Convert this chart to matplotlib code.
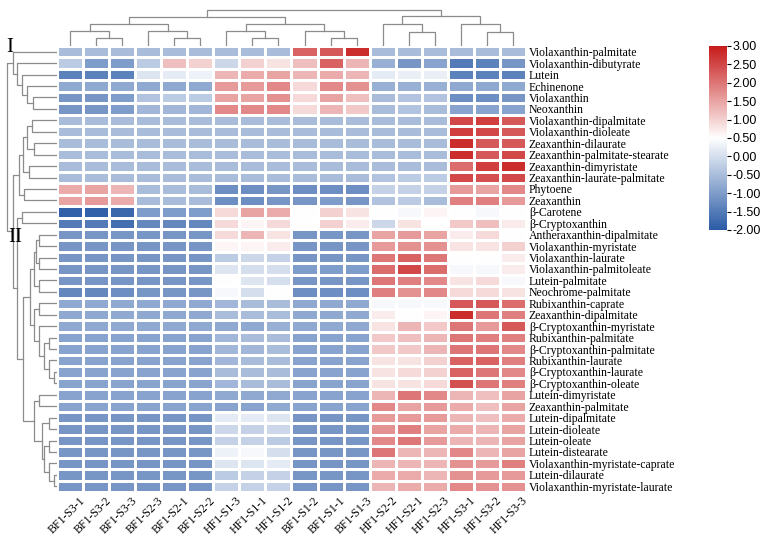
import matplotlib
matplotlib.use("Agg")
import matplotlib.pyplot as plt
import numpy as np
from matplotlib.colors import LinearSegmentedColormap
from matplotlib.transforms import ScaledTranslation

compounds = [
    "Violaxanthin-palmitate", "Violaxanthin-dibutyrate", "Lutein", "Echinenone",
    "Violaxanthin", "Neoxanthin", "Violaxanthin-dipalmitate", "Violaxanthin-dioleate",
    "Zeaxanthin-dilaurate", "Zeaxanthin-palmitate-stearate", "Zeaxanthin-dimyristate",
    "Zeaxanthin-laurate-palmitate", "Phytoene", "Zeaxanthin", "β-Carotene",
    "β-Cryptoxanthin", "Antheraxanthin-dipalmitate", "Violaxanthin-myristate",
    "Violaxanthin-laurate", "Violaxanthin-palmitoleate", "Lutein-palmitate",
    "Neochrome-palmitate", "Rubixanthin-caprate", "Zeaxanthin-dipalmitate",
    "β-Cryptoxanthin-myristate", "Rubixanthin-palmitate", "β-Cryptoxanthin-palmitate",
    "Rubixanthin-laurate", "β-Cryptoxanthin-laurate", "β-Cryptoxanthin-oleate",
    "Lutein-dimyristate", "Zeaxanthin-palmitate", "Lutein-dipalmitate", "Lutein-dioleate",
    "Lutein-oleate", "Lutein-distearate", "Violaxanthin-myristate-caprate",
    "Lutein-dilaurate", "Violaxanthin-myristate-laurate",
]

samples = [
    "BF1-S3-1", "BF1-S3-2", "BF1-S3-3", "BF1-S2-3", "BF1-S2-1", "BF1-S2-2",
    "HF1-S1-3", "HF1-S1-1", "HF1-S1-2", "BF1-S1-2", "BF1-S1-1", "BF1-S1-3",
    "HF1-S2-2", "HF1-S2-1", "HF1-S2-3", "HF1-S3-1", "HF1-S3-2", "HF1-S3-3",
]

# z-scores
zscores = [
    [-0.5, -0.5, -0.5, -0.5, -0.5, -0.5, -0.5, -0.5, -0.5, 2.2, 2.3, 2.8, -0.5, -0.5, -0.5, -0.5, -0.5, -0.5],
    [-0.3, -1.0, -1.0, -0.3, 1.2, 1.0, -0.1, 1.0, 0.8, 1.2, 2.2, 1.3, -0.7, -1.1, -0.9, -1.5, -1.4, -1.1],
    [-1.4, -1.4, -1.4, 0.1, 0.2, 0.3, 1.3, 1.4, 1.5, 1.3, 1.4, 1.3, 0.2, 0.25, 0.25, -1.4, -1.4, -1.4],
    [-0.8, -0.8, -0.8, -0.8, -0.8, -0.8, 1.6, 1.6, 1.8, 0.9, 1.8, 1.7, -0.7, -0.7, -0.7, -0.8, -0.8, -0.8],
    [-1.1, -1.1, -1.0, -0.4, -0.3, -0.3, 1.5, 1.5, 1.7, 0.9, 1.5, 1.2, -0.5, -0.4, -0.4, -1.2, -1.2, -1.1],
    [-1.1, -1.1, -1.0, -0.6, -0.6, -0.6, 1.8, 1.8, 1.8, 0.9, 1.3, 1.1, -0.5, -0.4, -0.5, -0.9, -0.9, -0.9],
    [-0.5, -0.5, -0.5, -0.5, -0.5, -0.5, -0.5, -0.5, -0.5, -0.5, -0.5, -0.5, -0.5, -0.5, -0.5, 2.5, 2.6, 2.3],
    [-0.5, -0.5, -0.5, -0.5, -0.5, -0.5, -0.5, -0.5, -0.5, -0.5, -0.5, -0.5, -0.5, -0.5, -0.5, 2.6, 2.5, 2.3],
    [-0.5, -0.5, -0.5, -0.5, -0.5, -0.5, -0.5, -0.5, -0.5, -0.5, -0.5, -0.5, -0.5, -0.5, -0.5, 2.8, 2.3, 2.3],
    [-0.5, -0.5, -0.5, -0.5, -0.5, -0.5, -0.5, -0.5, -0.5, -0.5, -0.5, -0.5, -0.5, -0.5, -0.5, 2.8, 2.3, 2.5],
    [-0.5, -0.5, -0.5, -0.5, -0.5, -0.5, -0.5, -0.5, -0.5, -0.5, -0.5, -0.5, -0.5, -0.5, -0.5, 2.1, 2.6, 2.8],
    [-0.5, -0.5, -0.5, -0.5, -0.5, -0.5, -0.5, -0.5, -0.5, -0.5, -0.5, -0.5, -0.4, -0.3, -0.3, 2.5, 2.4, 2.5],
    [1.4, 1.5, 1.3, -0.5, -0.5, -0.5, -1.2, -1.2, -1.1, -1.2, -1.2, -1.2, -0.2, -0.2, -0.2, 1.6, 1.5, 1.8],
    [1.5, 1.6, 1.4, -0.5, -0.5, -0.5, -1.2, -1.2, -1.1, -1.1, -1.0, -1.1, -0.4, -0.3, -0.5, 1.9, 1.9, 1.6],
    [-1.9, -1.9, -1.8, -1.0, -1.0, -1.0, 0.9, 1.5, 1.4, 0.5, 1.0, 0.8, 0.5, 0.4, 0.6, 0.5, 0.4, 0.5],
    [-1.5, -1.5, -1.7, -1.3, -1.3, -1.3, 0.9, 0.6, 0.9, 0.5, 1.0, 0.7, -0.1, 0.8, 0.5, 1.1, 1.2, 0.7],
    [-1.1, -1.1, -1.1, -1.1, -1.1, -1.1, 0.9, 1.3, 0.8, -1.1, -1.1, -1.1, 1.5, 1.6, 1.5, 0.7, 0.9, 0.5],
    [-1.1, -1.1, -1.1, -1.1, -1.1, -1.1, 0.6, 0.6, 0.7, -1.1, -1.1, -1.1, 1.6, 1.7, 1.7, 0.8, 0.8, 1.0],
    [-1.1, -1.1, -1.1, -1.1, -1.1, -1.1, -0.3, -0.1, -0.2, -1.1, -1.1, -1.1, 2.0, 2.2, 2.0, 0.5, 0.5, 0.7],
    [-1.1, -1.1, -1.1, -1.1, -1.1, -1.1, 0.1, 0.0, 0.0, -1.0, -1.0, -1.0, 2.1, 2.5, 2.1, 0.4, 0.4, 0.7],
    [-1.1, -1.1, -1.1, -1.1, -1.1, -1.1, 0.5, 0.1, 0.0, -1.1, -1.1, -1.1, 2.0, 1.9, 1.8, 0.8, 0.9, 0.4],
    [-1.3, -1.3, -1.2, -1.1, -1.1, -1.1, 0.4, 0.0, 0.5, -1.2, -1.2, -1.2, 1.9, 1.7, 1.8, 0.9, 0.9, 0.8],
    [-0.8, -0.8, -0.8, -0.8, -0.8, -0.8, -0.6, -0.5, -0.5, -0.8, -0.8, -0.8, 0.4, 0.4, 0.4, 2.3, 2.3, 2.1],
    [-0.8, -0.8, -0.8, -0.8, -0.8, -0.8, -0.5, -0.5, -0.5, -0.8, -0.8, -0.8, 0.7, 0.5, 0.6, 2.8, 2.0, 1.9],
    [-0.8, -0.8, -0.8, -0.8, -0.8, -0.8, -0.8, -0.8, -0.7, -0.8, -0.8, -0.8, 0.8, 1.3, 1.1, 2.0, 1.6, 2.3],
    [-0.9, -0.9, -0.9, -0.9, -0.9, -0.9, -0.6, -0.5, -0.5, -0.9, -0.9, -0.9, 1.1, 1.2, 1.3, 2.0, 1.9, 1.9],
    [-0.9, -0.9, -0.9, -0.9, -0.9, -0.9, -0.6, -0.6, -0.5, -0.9, -0.9, -0.9, 1.1, 1.1, 1.3, 2.0, 2.0, 1.8],
    [-0.9, -0.9, -0.9, -0.9, -0.9, -0.9, -0.6, -0.5, -0.5, -0.9, -0.9, -0.9, 0.8, 0.8, 1.0, 2.2, 2.2, 1.9],
    [-0.9, -0.9, -0.9, -0.9, -0.9, -0.9, -0.5, -0.5, -0.5, -0.9, -0.9, -0.9, 0.8, 0.9, 1.0, 2.2, 2.0, 1.8],
    [-0.9, -0.9, -0.9, -0.9, -0.9, -0.9, -0.6, -0.5, -0.5, -0.9, -0.9, -0.9, 0.8, 0.8, 0.9, 2.4, 2.0, 1.9],
    [-0.9, -0.9, -0.9, -0.9, -0.9, -0.9, -0.8, -0.8, -0.8, -0.9, -0.9, -0.9, 1.3, 2.0, 1.8, 1.3, 1.2, 1.5],
    [-0.9, -0.9, -0.9, -0.9, -0.9, -0.9, -0.9, -0.9, -0.8, -0.9, -0.9, -0.9, 1.8, 1.5, 1.6, 1.4, 1.2, 1.5],
    [-1.1, -1.1, -1.1, -1.1, -1.1, -1.1, 0.2, 0.2, 0.1, -1.1, -1.1, -1.1, 1.6, 1.6, 1.6, 1.3, 1.2, 1.4],
    [-1.1, -1.1, -1.1, -1.1, -1.1, -1.1, -0.1, -0.2, -0.1, -1.1, -1.1, -1.1, 1.7, 1.9, 1.5, 1.4, 1.3, 1.5],
    [-1.1, -1.1, -1.1, -1.1, -1.1, -1.1, -0.2, -0.2, -0.3, -1.1, -1.1, -1.1, 1.8, 2.0, 1.6, 1.3, 1.3, 1.5],
    [-1.1, -1.1, -1.1, -1.1, -1.1, -1.1, 0.3, 0.4, 0.0, -1.1, -1.1, -1.1, 2.0, 1.3, 1.3, 1.8, 1.3, 1.5],
    [-1.1, -1.1, -1.1, -1.1, -1.1, -1.1, 0.1, 0.1, 0.2, -1.1, -1.1, -1.1, 1.3, 1.3, 1.3, 1.7, 1.6, 1.9],
    [-1.1, -1.1, -1.1, -1.1, -1.1, -1.1, -0.3, -0.2, -0.2, -1.1, -1.1, -1.1, 1.4, 1.4, 1.3, 1.7, 1.6, 1.6],
    [-1.1, -1.1, -1.1, -1.1, -1.1, -1.1, -0.2, -0.2, -0.2, -1.1, -1.1, -1.1, 1.3, 1.4, 1.4, 1.8, 1.7, 1.7],
]

# dendrograms as nested [left, right, height]; leaves are row / column indices
row_tree = [
    [0, [1, [2, [3, [4, 5, 0.49], 0.60], 0.70], 0.81], 0.89],
    [
        [[[[6, 7, 0.50], [8, 9, 0.47], 0.61], [10, 11, 0.57], 0.69], [12, 13, 0.67], 0.77],
        [[14, 15, 0.70],
         [[[[[16, 17, 0.37], [18, 19, 0.37], 0.42], [20, 21, 0.37], 0.47],
           [[22, 23, 0.37], [24, [[25, 26, 0.17], [27, [28, 29, 0.07], 0.17], 0.27], 0.37], 0.47],
           0.55],
          [[30, 31, 0.37], [[32, 33, 0.17], [[34, 35, 0.17], [36, [37, 38, 0.07], 0.17], 0.27], 0.30], 0.47],
          0.69],
         0.81],
        0.89,
    ],
    1.0,
]

col_tree = [
    [[[0, [1, 2, 0.22], 0.42], [3, [4, 5, 0.22], 0.42], 0.61],
     [[6, [7, 8, 0.22], 0.42], [9, [10, 11, 0.22], 0.42], 0.61], 0.81],
    [[12, [13, 14, 0.40], 0.61], [15, [16, 17, 0.40], 0.61], 0.83],
    1.0,
]

cmap = LinearSegmentedColormap.from_list(
    "bwr_custom", [(0.0, "#2a5ba6"), (0.5, "#ffffff"), (1.0, "#c71a1a")])
tree_color = "#8c8c8c"


def draw_tree(ax, node, side):
    """Draw one link of the tree and return (leaf position, height)."""
    if isinstance(node, int):
        return node + 0.5, 0.0
    left, right, h = node
    pl, hl = draw_tree(ax, left, side)
    pr, hr = draw_tree(ax, right, side)
    if side == "top":
        ax.plot([pl, pl, pr, pr], [hl, h, h, hr], color=tree_color, lw=0.9)
    else:
        ax.plot([hl, h, h, hr], [pl, pl, pr, pr], color=tree_color, lw=0.9)
    return (pl + pr) / 2, h


plt.rcParams['font.family'] = ['Liberation Serif', 'DejaVu Serif']

W, H = 767, 538
fig = plt.figure(figsize=(W / 100, H / 100), dpi=100)

hx0, hx1, hy0, hy1 = 57, 526, 46, 492
ax = fig.add_axes([hx0 / W, 1 - hy1 / H, (hx1 - hx0) / W, (hy1 - hy0) / H])
data = np.array(zscores)
mesh = ax.pcolormesh(data, cmap=cmap, vmin=-2, vmax=3, edgecolors="white", linewidth=0.9)
ax.set_xlim(0, len(samples))
ax.set_ylim(len(compounds), 0)
ax.set_yticks(np.arange(len(compounds)) + 0.5, compounds, fontsize=8.5)
ax.yaxis.tick_right()
ax.set_xticks(np.arange(len(samples)) + 0.5, samples, fontsize=8.5,
              rotation=45, ha="right", rotation_mode="anchor")
ax.tick_params(length=0, pad=2)
ax.tick_params(axis="x", pad=2)
shift = ScaledTranslation(9 / 100, 0, fig.dpi_scale_trans)
for lab in ax.get_xticklabels():
    lab.set_transform(lab.get_transform() + shift)
for s in ax.spines.values():
    s.set_visible(False)

# top (sample) dendrogram
tx = fig.add_axes([hx0 / W, 1 - hy0 / H, (hx1 - hx0) / W, 38 / H])
draw_tree(tx, col_tree, "top")
tx.set_xlim(0, len(samples))
tx.set_ylim(0, 1.056)
tx.axis("off")

# left (compound) dendrogram
lx = fig.add_axes([5 / W, 1 - hy1 / H, (hx0 - 5) / W, (hy1 - hy0) / H])
draw_tree(lx, row_tree, "left")
lx.set_ylim(len(compounds), 0)
lx.set_xlim(1.04, 0)
lx.axis("off")

fig.text(10 / W, 1 - 47 / H, "I", fontsize=15, ha="center", va="center")
fig.text(15 / W, 1 - 238 / H, "II", fontsize=15, ha="center", va="center")

# colour scale
cax = fig.add_axes([709 / W, 1 - 230 / H, 18 / W, 184 / H])
cb = fig.colorbar(mesh, cax=cax, ticks=np.arange(-2, 3.01, 0.5), format="%.2f")
cb.outline.set_visible(False)
cb.ax.tick_params(labelsize=9, length=3, width=0.8, pad=1)
for t in cb.ax.get_yticklabels():
    t.set_fontfamily("Liberation Sans")

fig.savefig("out.png", dpi=100)
